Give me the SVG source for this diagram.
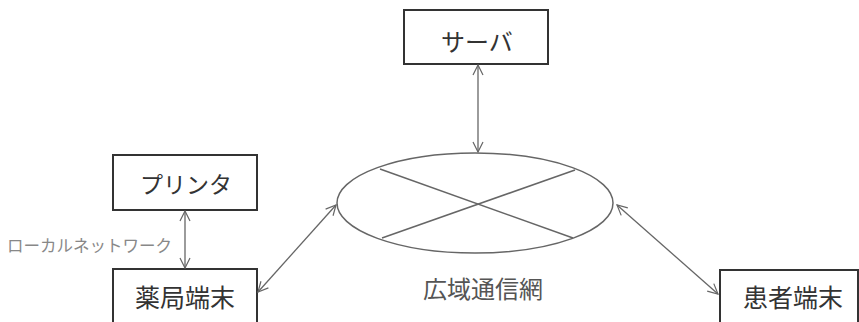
<svg xmlns="http://www.w3.org/2000/svg" width="859" height="322" viewBox="0 0 859 322">
<defs>
<marker id="ah" viewBox="0 0 12 12" refX="11" refY="6" markerWidth="12" markerHeight="12" markerUnits="userSpaceOnUse" orient="auto-start-reverse">
<path d="M1,1 L11,6 L1,11" fill="none" stroke="#666" stroke-width="1.2"/>
</marker>
</defs>
<style>
.box{fill:#fff;stroke:#333;stroke-width:2}
.lbl{font-family:"Noto Sans CJK JP","Liberation Sans",sans-serif;fill:#333;text-anchor:middle}
.con{stroke:#666;stroke-width:1.3;fill:none;marker-start:url(#ah);marker-end:url(#ah)}
.net{stroke:#666;stroke-width:1.5;fill:none}
</style>
<rect width="859" height="322" fill="#fff"/>
<g id="server">
<rect class="box" x="404" y="10" width="144" height="54"/>
<text class="lbl" x="477" y="51" font-size="24">サーバ</text>
</g>
<g id="printer">
<rect class="box" x="113" y="155" width="144" height="55"/>
<text class="lbl" x="186" y="193" font-size="23">プリンタ</text>
</g>
<g id="pharmacy">
<rect class="box" x="113" y="269" width="144" height="60"/>
<text class="lbl" x="185" y="307" font-size="25">薬局端末</text>
</g>
<g id="patient">
<rect class="box" x="720" y="270" width="138" height="60"/>
<text class="lbl" x="793" y="307" font-size="25">患者端末</text>
</g>
<g id="network">
<ellipse class="net" cx="475" cy="203" rx="138" ry="50"/>
<line class="net" x1="380" y1="169" x2="573" y2="238"/>
<line class="net" x1="575" y1="170" x2="382" y2="238"/>
<text x="483" y="298" font-size="24" font-family="Noto Sans CJK JP,Liberation Sans,sans-serif" fill="#555" text-anchor="middle">広域通信網</text>
</g>
<g id="connectors">
<line class="con" x1="478" y1="65" x2="478" y2="152"/>
<line class="con" x1="185" y1="211" x2="185" y2="268"/>
<line class="con" x1="258" y1="292" x2="336" y2="205"/>
<line class="con" x1="617" y1="205" x2="718" y2="294"/>
<text x="7" y="252" font-size="16.5" font-family="Noto Sans CJK JP,Liberation Sans,sans-serif" fill="#888">ローカルネットワーク</text>
</g>
</svg>
